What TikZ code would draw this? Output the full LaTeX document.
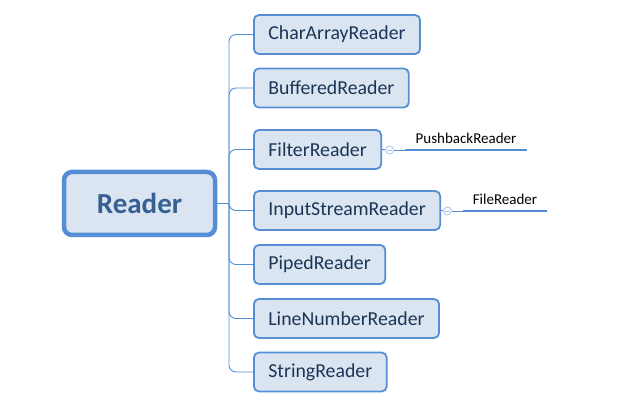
\documentclass[tikz,border=0pt]{standalone}
\usepackage{fontspec}
\setmainfont{Carlito}
\usetikzlibrary{positioning}

\definecolor{boxfill}{HTML}{DBE5F1}
\definecolor{boxline}{HTML}{558ED5}
\definecolor{rootText}{HTML}{366092}
\definecolor{childText}{HTML}{1B3556}
\definecolor{foldLine}{HTML}{A9C5EA}

\begin{document}
\begin{tikzpicture}[
    x=1pt, y=-1pt,
    every node/.style={font=\fontsize{19.8}{22}\selectfont},
    root/.style={draw=boxline, line width=4.5pt, fill=boxfill, rounded corners=8pt,
        minimum width=151pt, minimum height=63pt, text=rootText,
        font=\fontsize{29}{32}\selectfont\bfseries},
    child/.style={draw=boxline, line width=1.8pt, fill=boxfill, rounded corners=5pt,
        minimum height=39pt, inner xsep=14.5pt, text=childText, anchor=west},
    conn/.style={draw=boxline, line width=0.9pt},
    fold/.style={circle, draw=foldLine, line width=0.8pt, fill=white, inner sep=0pt,
        minimum size=8pt},
    leaf/.style={anchor=south, inner sep=2pt, text=black,
        font=\fontsize{15}{17}\selectfont},
    leafline/.style={draw=boxline, line width=2.6pt}
]
\useasboundingbox (0,0) rectangle (624,411);

% --- Root ---
\node[root] (reader) at (139.5,203.5) {Reader};
\coordinate (trunk) at (229,203.5);

% --- Children ---
\node[child] (chararray) at (253,34.5)  {CharArrayReader};
\node[child] (buffered)  at (253,88)    {BufferedReader};
\node[child] (filter)    at (253,149.5) {FilterReader};
\node[child] (input)     at (253,210.5) {InputStreamReader};
\node[child] (piped)     at (253,264.5) {PipedReader};
\node[child] (linenum)   at (253,318.5) {LineNumberReader};
\node[child] (string)    at (253,372)   {StringReader};

% --- Branches ---
\draw[conn] (reader.east) -- (trunk);
\foreach \c in {chararray,buffered,filter,input,piped,linenum,string}
    \draw[conn, rounded corners=7pt] (trunk) |- (\c.west);

% --- Sub branches ---
\node[fold] (fold1) at (389.5,150) {};
\node[leaf] (pushback) at (466,145.5) {PushbackReader};
\draw[conn] (filter.east) -- (fold1);
\draw[conn] (fold1) -- (405,150);
\draw[leafline] (405,150) -- (527,150);
\draw[foldLine, line width=0.7pt] ([xshift=-2.2pt]fold1.center) -- ([xshift=2.2pt]fold1.center);

\node[fold] (fold2) at (447.5,211) {};
\node[leaf] (file) at (505,206.5) {FileReader};
\draw[conn] (input.east) -- (fold2);
\draw[conn] (fold2) -- (463,211);
\draw[leafline] (463,211) -- (547,211);
\draw[foldLine, line width=0.7pt] ([xshift=-2.2pt]fold2.center) -- ([xshift=2.2pt]fold2.center);

\end{tikzpicture}
\end{document}
